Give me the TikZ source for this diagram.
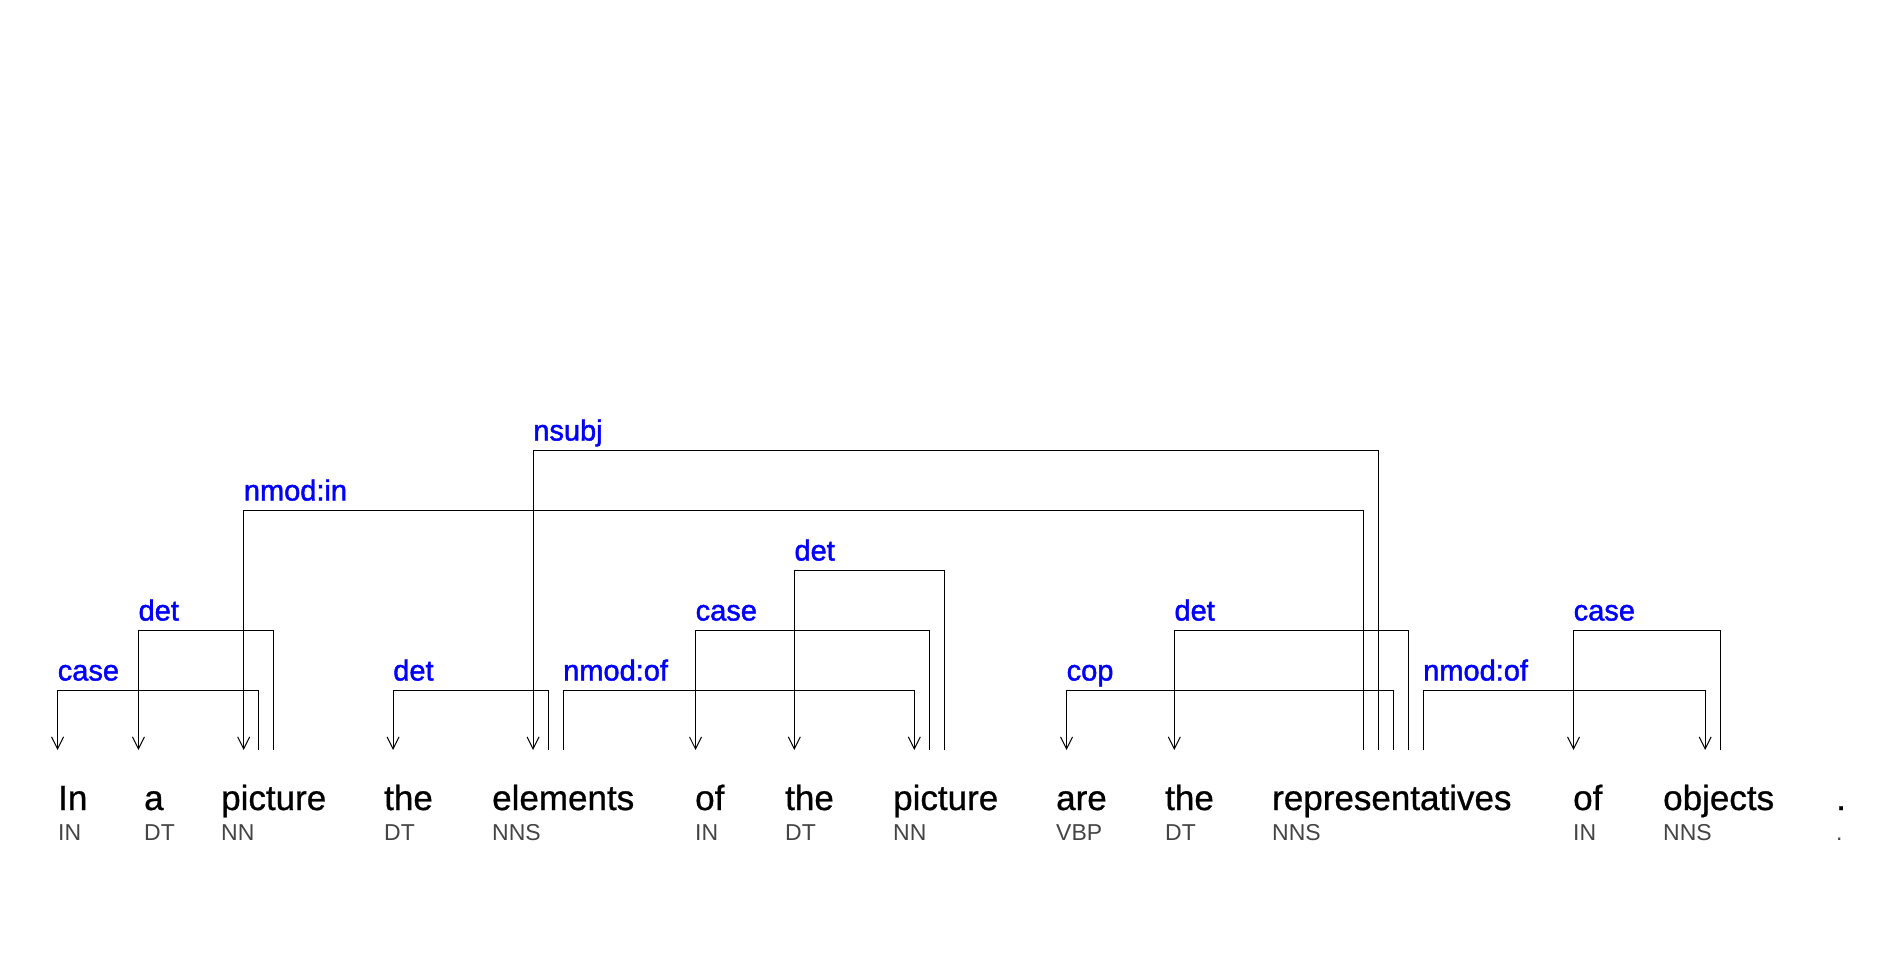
\documentclass[tikz,border=0pt]{standalone}
\usepackage{fontspec}
\setmainfont{Liberation Sans}
\newfontfamily\labfont[FakeBold=1.5]{Liberation Sans}
\newfontfamily\wordfont[FakeBold=0.8]{Liberation Sans}
\usetikzlibrary{arrows.meta}
\definecolor{labblue}{RGB}{0,0,255}
\definecolor{taggray}{RGB}{68,68,68}
\tikzset{
  word/.style={anchor=base west, inner sep=0pt, font=\wordfont\fontsize{35}{42}\selectfont},
  tag/.style={anchor=base west, inner sep=0pt, text=taggray, font=\fontsize{23}{28}\selectfont},
  lab/.style={anchor=base west, inner sep=0pt, text=labblue, font=\labfont\fontsize{29}{35}\selectfont},
  dep/.style={draw, line width=1pt, -{Straight Barb[length=12pt,width=12pt,line width=1pt]}}
}
% dependency arc: source port, target port, level, left end, label, label name
\newcommand\deparc[6]{%
  \draw[dep] (#1) -- (#1 |- #3) -| (#2);
  \path (#4 |- #3) ++(0,-9.5) node[lab] (#6) {#5};
}
\begin{document}
\begin{tikzpicture}[x=1pt,y=-1pt]
\path[use as bounding box] (0,0) rectangle (1901,960);

% levels of the horizontal bars
\coordinate (L1) at (0,690);
\coordinate (L2) at (0,630);
\coordinate (L3) at (0,570);
\coordinate (L4) at (0,510);
\coordinate (L5) at (0,450);

% words and their tags
\foreach \x/\w/\t/\n in {
  58/In/IN/1, 144/a/DT/2, 221/picture/NN/3, 384/the/DT/4, 492/elements/NNS/5,
  695/of/IN/6, 785/the/DT/7, 893/picture/NN/8, 1056/are/VBP/9, 1165/the/DT/10,
  1272/representatives/NNS/11, 1573/of/IN/12, 1663/objects/NNS/13, 1836/./././14}{
  \node[word] (w\n) at (\x,810) {\w};
  \node[tag] (t\n) at (\x,840) {\t};
}

% ports where the arcs meet the words
\foreach \name/\x in {
  in-t/57.6, a-t/138.4, pic-t/243.7, pic-s1/258.4, pic-s2/273.1,
  the-t/393.1, el-t/533.1, el-s1/548.0, el-s2/563.0,
  of-t/695.5, thb-t/794.3, picb-t/914.3, picb-s1/929.2, picb-s2/944.0,
  are-t/1066.5, thc-t/1174.3,
  rep-s1/1363.5, rep-s2/1378.5, rep-s3/1393.3, rep-s4/1408.0, rep-s5/1423.0,
  ofb-t/1573.5, obj-t/1705.2, obj-s1/1720.0}{
  \coordinate (\name) at (\x,750);
}

\deparc{pic-s1}{in-t}{L1}{in-t}{case}{l1}
\deparc{pic-s2}{a-t}{L2}{a-t}{det}{l2}
\deparc{rep-s1}{pic-t}{L4}{pic-t}{nmod:in}{l3}
\deparc{el-s1}{the-t}{L1}{the-t}{det}{l4}
\deparc{rep-s2}{el-t}{L5}{el-t}{nsubj}{l5}
\deparc{el-s2}{picb-t}{L1}{el-s2}{nmod:of}{l6}
\deparc{picb-s1}{of-t}{L2}{of-t}{case}{l7}
\deparc{picb-s2}{thb-t}{L3}{thb-t}{det}{l8}
\deparc{rep-s3}{are-t}{L1}{are-t}{cop}{l9}
\deparc{rep-s4}{thc-t}{L2}{thc-t}{det}{l10}
\deparc{rep-s5}{obj-t}{L1}{rep-s5}{nmod:of}{l11}
\deparc{obj-s1}{ofb-t}{L2}{ofb-t}{case}{l12}
\end{tikzpicture}
\end{document}
